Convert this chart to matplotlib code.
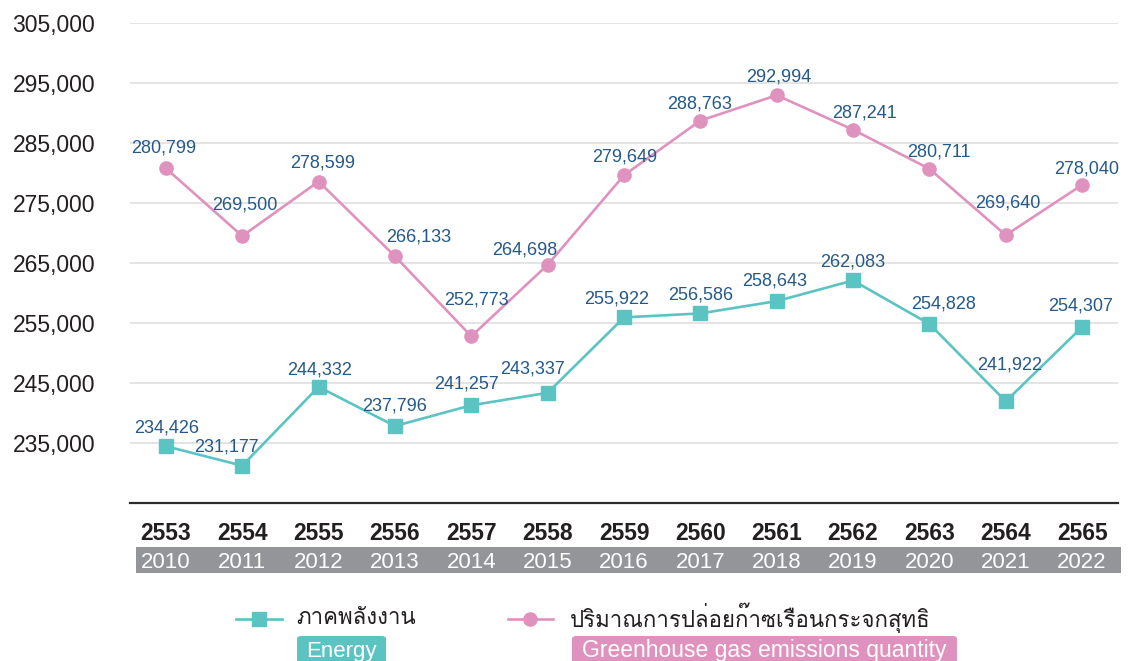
import matplotlib
matplotlib.use("Agg")
import matplotlib.pyplot as plt
from matplotlib import font_manager
from matplotlib.ft2font import FT2Font
from matplotlib.patches import Rectangle, FancyBboxPatch
from matplotlib.lines import Line2D
from matplotlib.transforms import blended_transform_factory

# ---------------- data ----------------
years_be = ["2553", "2554", "2555", "2556", "2557", "2558", "2559",
            "2560", "2561", "2562", "2563", "2564", "2565"]
years_ce = ["2010", "2011", "2012", "2013", "2014", "2015", "2016",
            "2017", "2018", "2019", "2020", "2021", "2022"]
energy = [234426, 231177, 244332, 237796, 241257, 243337, 255922,
          256586, 258643, 262083, 254828, 241922, 254307]
ghg = [280799, 269500, 278599, 266133, 252773, 264698, 279649,
       288763, 292994, 287241, 280711, 269640, 278040]
yticks = [235000, 245000, 255000, 265000, 275000, 285000, 295000, 305000]

legend_th = ["ภาคพลังงาน", "ปริมาณการปล่อยก๊าซเรือนกระจกสุทธิ"]
legend_en = ["Energy", "Greenhouse gas emissions quantity"]

# label offsets (pixels, dx right, dy up) of label centre from the point
energy_off = [(1, 20), (-16, 21), (1, 19), (0, 22), (-5, 23), (-15, 26), (-7, 20),
              (0, 20), (-2, 22), (0, 20), (14, 22), (4, 38), (-2, 23)]
ghg_off = [(-2, 22), (3, 33), (4, 21), (24, 21), (5, 38), (-23, 17), (1, 20),
           (-1, 19), (2, 20), (11, 19), (9, 19), (2, 34), (5, 18)]

TEAL = "#5BC4C2"
PINK = "#E092BE"
LABEL_C = "#24598A"
GREY_BAND = "#939598"

# ---------------- fonts ----------------
num_font = "Liberation Sans"


def find_thai_font():
    for fe in font_manager.fontManager.ttflist:
        try:
            f = FT2Font(fe.fname)
            cm = f.get_charmap()
            if 0x0E20 in cm and 0x0E01 in cm:
                return fe.name
        except Exception:
            continue
    return None


thai = find_thai_font()
thai_family = [thai, "DejaVu Sans"] if thai else ["DejaVu Sans"]

plt.rcParams["font.family"] = [num_font, "DejaVu Sans"]

W, H = 1130, 661
fig = plt.figure(figsize=(W / 100, H / 100), dpi=100)
L, R, T, B = 130, 1118, 23.3, 502.7
ax = fig.add_axes([L / W, 1 - B / H, (R - L) / W, (B - T) / H])

x = list(range(len(years_be)))
ax.set_xlim(-0.47, 12.47)
ax.set_ylim(225000, 305000)

for s in ["top", "right", "left"]:
    ax.spines[s].set_visible(False)
ax.spines["bottom"].set_color("#2b2b2b")
ax.spines["bottom"].set_linewidth(1.6)
ax.spines["bottom"].set_zorder(5)

ax.set_yticks(yticks)
ax.set_yticklabels([f"{v:,}" for v in yticks], fontsize=16.5, color="#231F20")
ax.tick_params(axis="y", length=0, pad=25)
ax.set_xticks([])
ax.grid(axis="y", color="#DCDCDC", linewidth=1.1)
ax.set_axisbelow(True)

ax.plot(x, energy, color=TEAL, lw=1.9, marker="s", ms=9.5, zorder=3)
ax.plot(x, ghg, color=PINK, lw=1.9, marker="o", ms=9.5, zorder=3)

half = 6.5
for xi, v, (dx, dy) in zip(x, energy, energy_off):
    ax.annotate(f"{v:,}", (xi, v), xytext=(dx, dy - half), textcoords="offset pixels",
                ha="center", va="baseline", fontsize=13, color=LABEL_C, zorder=4)
for xi, v, (dx, dy) in zip(x, ghg, ghg_off):
    ax.annotate(f"{v:,}", (xi, v), xytext=(dx, dy - half), textcoords="offset pixels",
                ha="center", va="baseline", fontsize=13, color=LABEL_C, zorder=4)

# x labels: Buddhist era bold, Gregorian on grey band
tr = blended_transform_factory(ax.transData, fig.transFigure)
fig.patches.append(Rectangle((136 / W, 1 - 573 / H), (1121 - 136) / W, 26 / H,
                             transform=fig.transFigure, facecolor=GREY_BAND,
                             edgecolor="none", zorder=0))
for xi, be, ce in zip(x, years_be, years_ce):
    fig.text(xi, 1 - 540 / H, be, transform=tr, ha="center", va="baseline",
             fontsize=16.5, fontweight="bold", color="#231F20")
    fig.text(xi, 1 - 568.3 / H, ce, transform=tr, ha="center", va="baseline",
             fontsize=16, color="white")

# legend (manual)
ly = 1 - 619 / H
fig.lines.append(Line2D([236 / W, 282 / W], [ly, ly], transform=fig.transFigure,
                        color=TEAL, lw=1.9, marker=None))
fig.lines.append(Line2D([259 / W], [ly], transform=fig.transFigure, color=TEAL,
                        marker="s", ms=9.5, lw=0))
fig.lines.append(Line2D([508 / W, 553 / W], [ly, ly], transform=fig.transFigure,
                        color=PINK, lw=1.9))
fig.lines.append(Line2D([530 / W], [ly], transform=fig.transFigure, color=PINK,
                        marker="o", ms=9.5, lw=0))

fig.text(296 / W, 1 - 618 / H, legend_th[0], family=thai_family, fontsize=16,
         ha="left", va="center", color="#231F20")
fig.text(570 / W, 1 - 618 / H, legend_th[1], family=thai_family, fontsize=16,
         ha="left", va="center", color="#231F20")

fig.patches.append(FancyBboxPatch((297 / W, 1 - 668 / H), (386 - 297) / W, 32 / H,
                                  boxstyle="round,pad=0,rounding_size=0.004",
                                  transform=fig.transFigure, facecolor=TEAL,
                                  edgecolor="none"))
fig.patches.append(FancyBboxPatch((572 / W, 1 - 668 / H), (957 - 572) / W, 32 / H,
                                  boxstyle="round,pad=0,rounding_size=0.004",
                                  transform=fig.transFigure, facecolor=PINK,
                                  edgecolor="none"))
fig.text((297 + 386) / 2 / W, 1 - 657 / H, legend_en[0], fontsize=16, color="white",
         ha="center", va="baseline")
fig.text((572 + 957) / 2 / W, 1 - 657 / H, legend_en[1], fontsize=16.5, color="white",
         ha="center", va="baseline")

fig.savefig("out.png", dpi=100)
